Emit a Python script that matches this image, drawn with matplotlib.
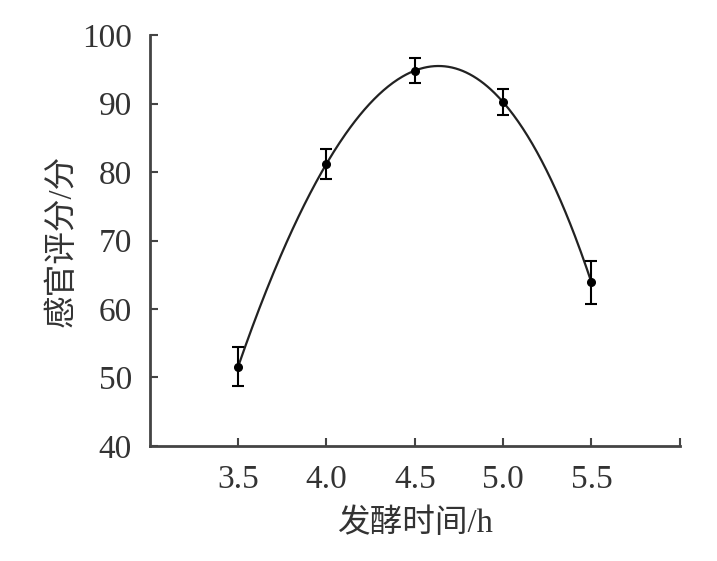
import numpy as np
import matplotlib
matplotlib.use('Agg')
import matplotlib.pyplot as plt

# fermentation time (h) and sensory score
time_h = [3.5, 4.0, 4.5, 5.0, 5.5]
score = [51.6, 81.2, 94.8, 90.2, 63.9]
score_err = [2.9, 2.2, 1.8, 1.9, 3.1]
x_ticks = [3.5, 4.0, 4.5, 5.0, 5.5, 6.0]
x_tick_labels = ['3.5', '4.0', '4.5', '5.0', '5.5', '']
y_ticks = [40, 50, 60, 70, 80, 90, 100]

fam = ['Liberation Serif', 'Noto Sans CJK SC']
txt_col = '#333333'

fig = plt.figure(figsize=(7.17, 5.61), dpi=100)
ax = fig.add_axes([0.209, 0.205, 0.739, 0.7326])

# smooth curve through the means
coef = np.polyfit(time_h, score, 4)
xs = np.linspace(time_h[0], time_h[-1], 300)
ax.plot(xs, np.polyval(coef, xs), color='#222222', lw=1.6)

ax.errorbar(time_h, score, yerr=score_err, fmt='o', color='black',
            ms=5.5, capsize=4, elinewidth=1.5, capthick=1.5)

ax.set_xlim(3.0, 6.0)
ax.set_ylim(40, 100)
ax.set_xticks(x_ticks)
ax.set_xticklabels(x_tick_labels)
ax.set_yticks(y_ticks)

for s in ['top', 'right']:
    ax.spines[s].set_visible(False)
for s in ['left', 'bottom']:
    ax.spines[s].set_color('#444444')
    ax.spines[s].set_linewidth(2)

ax.tick_params(axis='x', direction='in', length=6, width=1.5, color='#444444',
               pad=13, labelsize=24, labelcolor=txt_col)
ax.tick_params(axis='y', direction='in', length=6, width=1.5, color='#444444',
               pad=13, labelsize=24, labelcolor=txt_col)
for lab in ax.get_xticklabels() + ax.get_yticklabels():
    lab.set_family(fam)

ax.set_xlabel('发酵时间/h', family=fam, fontsize=23.5, color=txt_col, labelpad=10)
ax.set_ylabel('感官评分/分', family=fam, fontsize=23.5, color=txt_col, labelpad=3)

fig.savefig('out.png', dpi=100)
